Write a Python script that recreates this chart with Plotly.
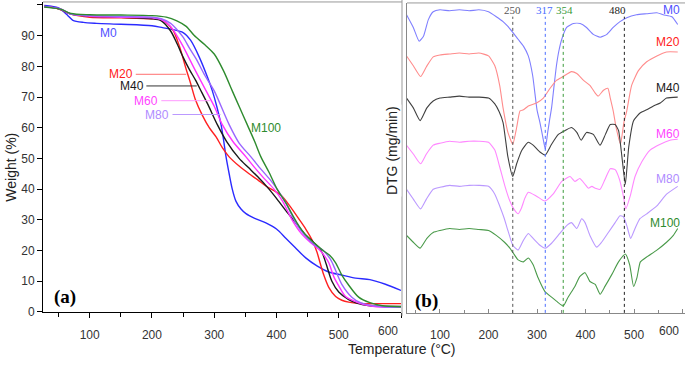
import plotly.graph_objects as go

W, H = 685, 365
def PX(x): return x / W
def PY(y): return 1 - y / H

series_names = ["M0", "M20", "M40", "M60", "M80", "M100"]

# ---------------- TGA (panel a) ----------------
tga_T_M0 = [27,40,50,57,65,73,90,111,150,200,217,233,250,262,276,290,297,304,311,315,319,324,329,335,343,351,365,383,400,415,430,447,465,484,505,527,550,575,600]
tga_M0 = [99.8,99.5,99,98,96.5,95,94.3,94,93.7,93.2,92.6,92,91,88.5,83,76,72,67,61,56,50.5,45,40,36,33.5,32,30.5,29,27,24,21,17.6,15,13,12,11,10.5,9,7]
tga_T_M20 = [27,40,55,70,100,150,200,217,233,244,255,262,270,281,292,303,313,324,340,356,370,383,396,409,425,437,447,457,465,470,476,484,495,505,516,540,570,600]
tga_M20 = [99.5,99.2,98.3,97,96,95.8,95.5,95,92,86.6,79,74.5,69,64,60,57,53.5,50.5,47.5,45,43,41,39.5,37.7,33.5,30,27,23.5,19.5,16,12,8,5,3.8,3.2,2.7,2.7,2.7]
tga_T_M40 = [27,40,55,70,100,150,200,215,230,240,250,260,270,280,290,305,320,340,355,370,388,400,415,431,445,458,468,474,480,489,500,516,530,550,575,600]
tga_M40 = [99.5,99.2,98.4,97,96.3,96,95.5,94.8,91.5,87.5,83,79,75.5,71.5,67.5,61,55.5,50,47,44,40,37,33,29,25.5,23,21,19,15.5,10,6.5,4,2.8,2,1.8,1.8]
tga_T_M60 = [27,40,55,70,100,150,200,215,230,240,250,260,270,287,300,313,330,351,365,380,396,410,425,440,455,470,478,484,492,500,511,525,540,560,600]
tga_M60 = [99.5,99.2,98.5,97,96.3,96,95.8,95.2,93,90,86.5,82.5,78.5,72,67,61,55.5,50.5,47,43.5,40,36,30,25.5,22.5,20,18,16,11.5,8.5,5,3.5,2.4,1.7,1.5]
tga_T_M80 = [27,40,55,70,100,150,200,215,230,240,250,260,271,285,300,324,340,359,375,390,401,415,431,445,460,475,487,495,505,521,535,550,575,600]
tga_M80 = [99.5,99.2,98.5,97,96.5,96.2,96,95.5,94,92,89.5,86,82.4,77,72,61,55,50.5,46.5,43,40,35.5,29,25,22,20,17,13.5,9,4.8,3,2.2,1.6,1.5]
tga_T_M100 = [27,40,55,70,100,150,200,223,240,255,268,285,300,315,329,341,353,365,375,388,401,415,433,445,460,475,485,495,505,515,532,550,570,600]
tga_M100 = [99.3,99,98.5,97.2,96.8,96.7,96.5,96,94.8,93,90,87,84,78.5,72,66.5,61,55.5,50.5,45.5,40,35.5,29,25.5,22.5,20,18.5,16,12,9,4.8,3,2,1.7]

# ---------------- DTG (panel b), arbitrary units with vertical offsets ----------------
dtg_T_M0 = [31,45,57,66,76,86,100,120,140,160,180,200,216,230,240,250,261,272,282,291,300,306,312,317,322,326,330,335,340,345,351,361,375,389,402,416,430,444,457,471,485,505,526,547,560,578,590]
dtg_M0 = [304,291,277,282,299,307,309,308,309,308,309,307,302,297,292,286,279,272,262,242,207,194,179,167,184,197,209,231,252,267,279,291,295,295,291,284,281,284,291,297,301,304,305,306,304,302,294]
dtg_T_M20 = [31,45,60,72,86,100,120,140,160,180,200,213,223,230,240,250,258,265,272,282,299,313,327,340,354,371,382,396,409,420,426,437,446,451,457,463,472,479,485,495,509,526,547,567,590]
dtg_M20 = [262,252,241,251,261,263,264,265,264,265,262,252,232,209,184,172,189,206,207,211,214,219,229,237,241,246,244,237,232,224,221,227,229,219,206,189,172,194,206,232,247,256,262,266,266]
dtg_T_M40 = [31,45,59,73,86,100,120,140,160,180,200,213,222,230,240,250,258,269,282,292,306,317,330,344,358,371,382,391,402,416,430,441,451,461,468,475,482,489,499,513,526,540,554,567,590]
dtg_M40 = [219,209,196,209,216,219,220,221,220,220,219,213,205,194,159,139,152,166,174,171,164,161,172,182,186,189,184,176,184,182,171,182,192,192,186,159,131,169,196,204,207,211,214,219,220]
dtg_T_M60 = [31,45,60,72,86,100,120,140,160,180,200,213,223,234,244,252,261,268,275,282,299,316,333,351,368,378,388,399,406,413,420,430,440,451,461,470,478,483,492,502,516,533,554,574,590]
dtg_M60 = [171,162,152,162,171,173,175,174,175,175,174,166,149,129,114,106,101,107,117,123,119,114,121,134,139,134,137,131,127,129,127,126,136,147,146,136,119,106,119,139,154,166,172,176,177]
dtg_T_M80 = [31,45,60,72,86,100,120,140,160,180,200,213,223,232,240,250,261,272,282,292,306,317,330,347,361,371,382,392,399,409,423,433,447,461,471,478,485,493,502,512,526,547,567,590]
dtg_M80 = [126,116,106,116,126,128,130,129,130,130,129,121,109,97,84,69,64,74,81,76,69,66,71,81,89,92,86,96,92,79,67,72,82,92,99,98,89,76,86,96,101,109,121,129]
dtg_T_M100 = [31,45,59,73,86,100,120,140,160,180,200,216,233,244,251,261,272,282,292,302,316,330,340,354,364,378,388,399,409,420,430,440,454,468,482,491,499,506,513,526,547,567,581,590]
dtg_M100 = [79,72,66,76,82,84,86,85,86,85,84,79,72,66,61,54,52,56,49,36,22,16,12,7,16,27,37,41,32,29,19,27,39,52,60,49,27,36,52,57,64,72,79,86]

peak_temps = [250, 317, 354, 480]
peak_labels = ["250", "317", "354", "480"]
peak_colors = ["#555555", "#4a6cff", "#3a9a3a", "#222222"]

x_tick_vals = [100, 200, 300, 400, 500, 600]
x_tick_text = ["100", "200", "300", "400", "500", ""]
y_tick_vals = [0, 10, 20, 30, 40, 50, 60, 70, 80, 90, 100]

tga_colors = ["#2b2bff", "#ff2020", "#1a1a1a", "#ff33ff", "#9966ff", "#2e8b2e"]
dtg_colors = ["#7f7fff", "#ff8c8c", "#404040", "#ff88ff", "#bb99ff", "#4a9a4a"]
label_colors = ["#5050ff", "#ff2020", "#1a1a1a", "#ff44ff", "#b08cff", "#2e8b2e"]

tga_T = [tga_T_M0, tga_T_M20, tga_T_M40, tga_T_M60, tga_T_M80, tga_T_M100]
tga_W = [tga_M0, tga_M20, tga_M40, tga_M60, tga_M80, tga_M100]
dtg_T = [dtg_T_M0, dtg_T_M20, dtg_T_M40, dtg_T_M60, dtg_T_M80, dtg_T_M100]
dtg_V = [dtg_M0, dtg_M20, dtg_M40, dtg_M60, dtg_M80, dtg_M100]

fig = go.Figure()
for i, name in enumerate(series_names):
    fig.add_trace(go.Scatter(x=tga_T[i], y=tga_W[i], mode="lines", name=name,
                             line=dict(color=tga_colors[i], width=1.4, shape="spline", smoothing=0.8),
                             xaxis="x", yaxis="y", showlegend=False, hoverinfo="skip"))
for i, name in enumerate(series_names):
    fig.add_trace(go.Scatter(x=dtg_T[i], y=dtg_V[i], mode="lines", name=name,
                             line=dict(color=dtg_colors[i], width=1.1, shape="spline", smoothing=0.5),
                             xaxis="x2", yaxis="y2", showlegend=False, hoverinfo="skip"))

tick_font = dict(family="Liberation Sans, Arial, sans-serif", size=12, color="#333333")
fig.update_layout(
    width=W, height=H, margin=dict(l=0, r=0, t=0, b=0),
    plot_bgcolor="white", paper_bgcolor="white",
    xaxis=dict(domain=[PX(43), PX(401)], range=[25, 600], anchor="y",
               showline=True, linecolor="black", linewidth=1, mirror=False,
               ticks="outside", ticklen=5, tickcolor="black", ticklabelstandoff=7,
               tickmode="array", tickvals=x_tick_vals, ticktext=x_tick_text,
               minor=dict(dtick=50, tick0=0, ticks="outside", ticklen=4, tickcolor="black", showgrid=False),
               showgrid=False, zeroline=False, tickfont=tick_font),
    yaxis=dict(domain=[PY(318), PY(2)], range=[0, 100.96], anchor="x",
               showline=True, linecolor="black", linewidth=1,
               ticks="outside", ticklen=5, tickcolor="black",
               tickmode="array", tickvals=y_tick_vals,
               showgrid=False, zeroline=False, tickfont=tick_font),
    xaxis2=dict(domain=[PX(407), 1.0], range=[32, 605], anchor="y2",
                showline=True, linecolor="#888888", linewidth=1,
                ticks="inside", ticklen=4, tickcolor="#888888", ticklabelstandoff=11,
                tickmode="array", tickvals=x_tick_vals, ticktext=x_tick_text,
                minor=dict(dtick=50, tick0=0, ticks="inside", ticklen=3, tickcolor="#888888", showgrid=False),
                showgrid=False, zeroline=False, tickfont=tick_font),
    yaxis2=dict(domain=[PY(319), PY(3)], range=[0, 316], anchor="x2",
                showline=True, linecolor="#888888", linewidth=1,
                showticklabels=False, ticks="", showgrid=False, zeroline=False),
)

shapes = []
# frame lines
shapes.append(dict(type="line", xref="paper", yref="paper", x0=PX(43), x1=PX(402), y0=PY(2), y1=PY(2),
                   line=dict(color="#999999", width=1)))
shapes.append(dict(type="line", xref="paper", yref="paper", x0=PX(402), x1=PX(402), y0=PY(0), y1=PY(322),
                   line=dict(color="#999999", width=1)))
shapes.append(dict(type="line", xref="paper", yref="paper", x0=PX(407), x1=1.0, y0=PY(3), y1=PY(3),
                   line=dict(color="#999999", width=1)))
# peak markers
for t, c in zip(peak_temps, peak_colors):
    shapes.append(dict(type="line", xref="x2", yref="y2", x0=t, x1=t, y0=0, y1=302,
                       line=dict(color=c, width=1, dash="dot")))
# leader lines for left labels
leader = [("M20", 174, 255, 77.4, "#ff7070"), ("M40", 191, 272, 73.6, "#333333"),
          ("M60", 215, 294, 68.8, "#ff99ff"), ("M80", 233, 310, 64.3, "#bb99ff")]
for nm, xa, xb, yv, col in leader:
    shapes.append(dict(type="line", xref="x", yref="y", x0=xa, x1=xb, y0=yv, y1=yv,
                       line=dict(color=col, width=1)))
fig.update_layout(shapes=shapes)

ann = []
lab_font = "Liberation Sans, Arial, sans-serif"
# left panel labels
left_labels = [("M0", 130, 90.7, label_colors[0], "center"),
               ("M20", 172, 77.4, label_colors[1], "right"),
               ("M40", 190, 73.6, label_colors[2], "right"),
               ("M60", 213, 68.8, label_colors[3], "right"),
               ("M80", 231, 64.3, label_colors[4], "right"),
               ("M100", 383, 60.0, label_colors[5], "center")]
for txt, xv, yv, col, anc in left_labels:
    ann.append(dict(text=txt, x=xv, y=yv, xref="x", yref="y", showarrow=False, xanchor=anc,
                    font=dict(family=lab_font, size=12, color=col)))
# right panel labels
right_y = [10, 43, 90, 137, 182, 227]
for i, txt in enumerate(series_names):
    ann.append(dict(text=txt, x=PX(682), y=PY(right_y[i]), xref="paper", yref="paper", showarrow=False,
                    xanchor="right", yanchor="middle",
                    font=dict(family=lab_font, size=12, color=label_colors[i])))
# last x tick labels sit inside the axis end
ann.append(dict(text="600", x=PX(400), y=PY(337), xref="paper", yref="paper", showarrow=False,
                xanchor="right", yanchor="middle", font=tick_font))
ann.append(dict(text="600", x=PX(681), y=PY(337), xref="paper", yref="paper", showarrow=False,
                xanchor="right", yanchor="middle", font=tick_font))
# peak labels
peak_label_x = [250, 315, 356, 466]
for lx, txt, c in zip(peak_label_x, peak_labels, peak_colors):
    ann.append(dict(text=txt, x=lx, y=PY(10), xref="x2", yref="paper", showarrow=False,
                    xanchor="center", yanchor="middle",
                    font=dict(family="Liberation Serif, Times New Roman, serif", size=11, color=c)))
# panel tags
ann.append(dict(text="<b>(a)</b>", x=PX(52), y=PY(303), xref="paper", yref="paper", showarrow=False,
                xanchor="left", yanchor="middle",
                font=dict(family="Liberation Serif, Times New Roman, serif", size=19, color="black")))
ann.append(dict(text="<b>(b)</b>", x=PX(413), y=PY(307), xref="paper", yref="paper", showarrow=False,
                xanchor="left", yanchor="middle",
                font=dict(family="Liberation Serif, Times New Roman, serif", size=19, color="black")))
# axis titles
ann.append(dict(text="Weight (%)", x=PX(11), y=PY(171), xref="paper", yref="paper", showarrow=False,
                textangle=-90, xanchor="center", yanchor="middle",
                font=dict(family=lab_font, size=14, color="#222222")))
ann.append(dict(text="Temperature (°C)", x=PX(402), y=PY(356), xref="paper", yref="paper", showarrow=False,
                xanchor="center", yanchor="middle",
                font=dict(family=lab_font, size=14, color="#222222")))
ann.append(dict(text="DTG (mg/min)", x=PX(392), y=PY(153), xref="paper", yref="paper", showarrow=False,
                textangle=-90, xanchor="center", yanchor="middle", bgcolor="white",
                font=dict(family=lab_font, size=14, color="#222222")))
fig.update_layout(annotations=ann)

post_js = "document.body.style.margin='0';document.body.style.overflow='hidden';"
fig.write_html("out.html", config={"displayModeBar": False}, post_script=post_js)
